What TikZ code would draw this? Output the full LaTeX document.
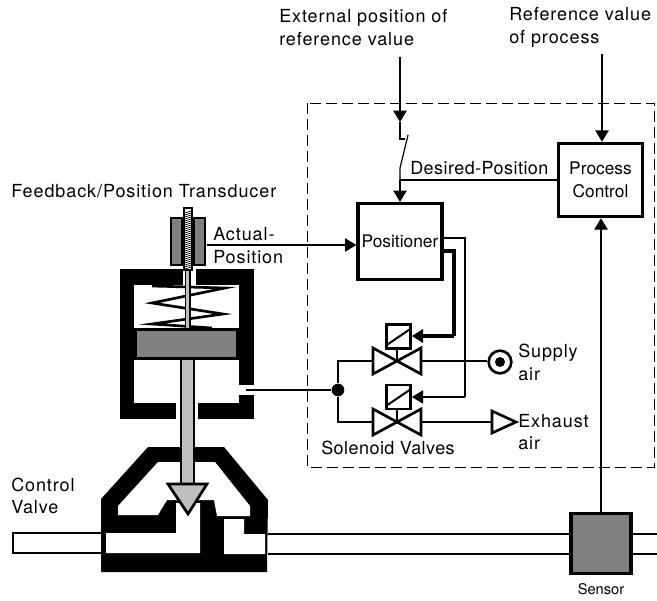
\documentclass[tikz,border=0pt]{standalone}
\usepackage{fontspec}
\setmainfont{TeX Gyre Heros}
\newfontfamily\widefont[LetterSpace=5]{TeX Gyre Heros}
\newfontfamily\semifont[LetterSpace=2.5]{TeX Gyre Heros}
\usepackage{tikz}
\usetikzlibrary{arrows.meta}
\definecolor{midgray}{gray}{0.5}
\definecolor{lightgray}{gray}{0.75}
\tikzstyle{block} = [rectangle, draw=black, line width=2.4pt, inner sep=0pt, align=center, font=\fontsize{13}{17}\selectfont]
\tikzstyle{wide} = [inner sep=0pt, anchor=west, align=left, font=\fontsize{13.5}{17}\selectfont\widefont]
\tikzstyle{semi} = [inner sep=0pt, font=\fontsize{13.5}{16}\selectfont\semifont]
\tikzstyle{arrow} = [line width=0.9pt,-{Triangle[length=8.5pt,width=10pt]}]
\tikzstyle{wire} = [line width=0.9pt]
\tikzstyle{solenoid} = [rectangle, draw=black, line width=2pt, minimum width=18pt, minimum height=18pt, inner sep=0pt]
\tikzstyle{valve} = [draw=black, line width=2pt, line join=miter]
\tikzstyle{wall} = [fill=black, draw=none]
\tikzstyle{hollow} = [fill=white, draw=none]

\begin{document}
\begin{tikzpicture}[x=0.75pt,y=-0.75pt]
\useasboundingbox (0,0) rectangle (657,600);

% control cabinet
\draw [line width=0.6pt, dash pattern=on 8.5pt off 3.5pt] (307,103) rectangle (654,467);

% pipe
\draw [line width=2pt, fill=white] (101,533) -- (13,533) -- (13,553) -- (101,553);
\draw [line width=2.2pt] (268,534) -- (657,534);
\draw [line width=2.2pt] (268,554) -- (657,554);

% valve body
\fill [wall] (101,499) -- (148,447) -- (224,447) -- (268,500) -- (267,572) -- (101,572) -- cycle;
\fill [hollow] (118,506) -- (158,462) -- (215,462) -- (250,506) -- (250,516) -- (217,516) -- (214,500) -- (167,500) -- (158,515) -- (118,515) -- cycle;
\fill [hollow] (106,533) -- (176,533) -- (176,503) -- (200,503) -- (200,553) -- (106,553) -- cycle;
\fill [hollow] (224,519) -- (244,519) -- (244,534) -- (265,534) -- (265,554) -- (224,554) -- cycle;

% actuator
\fill [wall] (120,269) rectangle (254,419);
\fill [hollow] (134,285) rectangle (239,403);
\fill [hollow] (239,385) rectangle (255,395);
\fill [hollow] (183,268) rectangle (196,286);
\fill [hollow] (176,402) rectangle (198,420);

% spring
\draw [line width=2pt] (152,286) -- (225,288) -- (152,303) -- (223,314) -- (152,324) -- (212,328);

% piston
\draw [line width=2pt, fill=midgray] (135.5,329.5) rectangle (237.5,358.5);

% stem and plug
\draw [line width=2pt, fill=lightgray] (181,359) rectangle (194,484);
\draw [line width=2pt, fill=lightgray, line join=miter] (168,484) -- (207,484) -- (188,514) -- cycle;

% transducer
\draw [line width=1pt, fill=midgray] (171,218) rectangle (182,265);
\draw [line width=1pt, fill=midgray] (194,218) rectangle (205,265);
\draw [line width=1.2pt, fill=lightgray] (185.5,270) rectangle (190,329);
\draw [line width=1.5pt, fill=white] (184,208) rectangle (192,270);
\foreach \y in {212,214,...,268}
    \draw [line width=0.5pt] (185,\y+1) -- (191,\y-1);

% blocks
\node (positioner) [block, minimum width=63pt, minimum height=57pt] at (400,241.5) {Positioner};
\node (control) [block, minimum width=63pt, minimum height=55pt] at (600.5,180) {Process\\Control};
\node (sensor) [block, fill=midgray, minimum width=45pt, minimum height=45pt] at (601,543.5) {};

% solenoid valves
\node (solA) [solenoid] at (398.5,336.5) {};
\node (solB) [solenoid] at (398.5,397) {};
\coordinate (valveA) at (397,361);
\coordinate (valveB) at (397,422);
\foreach \n/\c in {solA/valveA,solB/valveB} {
    \draw [valve] ([shift={(-24,-13)}]\c) -- ([shift={(24,13)}]\c) -- ([shift={(24,-13)}]\c) -- ([shift={(-24,13)}]\c) -- cycle;
    \draw [line width=1.5pt] (\n.south -| \c) -- (\c);
    \draw [line width=1.5pt] ([shift={(-11,8)}]\n.center) -- ([shift={(11,-7)}]\n.center);
}

% signals
\coordinate (ext) at (400,57);
\coordinate (extEnd) at (400,122);
\coordinate (swA) at (400,139);
\coordinate (swB) at (405,139);
\coordinate (swC) at (408,135);
\coordinate (swD) at (400,168);
\coordinate (desired) at (400,180);
\coordinate (ref) at (602,54);
\coordinate (actual) at (207,245);
\coordinate (thinA) at (465,238);
\coordinate (thinB) at (465,397);
\coordinate (thickA) at (454,251);
\coordinate (thickB) at (454,336);
\coordinate (port) at (246,390);
\node (junction) [circle, fill=black, minimum size=9.5pt, inner sep=0pt] at (338,390) {};
\node (supply) [circle, draw=black, line width=2pt, fill=white, minimum size=17pt, inner sep=0pt] at (500,362) {};
\node (supplydot) [circle, fill=black, minimum size=7.5pt, inner sep=0pt] at (500,362) {};
\coordinate (exhaust) at (492,422);

\draw [arrow] (ext) -- (extEnd);
\draw [wire] (extEnd) -- (swA) -- (swB);
\draw [wire] (swC) -- (swD) -- (desired);
\draw [arrow] (desired) -- (positioner.north);
\draw [wire] (desired) -- (desired -| control.west);
\draw [arrow] (ref) -- (ref |- control.north);
\draw [arrow] (actual) -- (actual -| positioner.west);
\draw [arrow] (sensor.north) -- (control.south -| sensor.north);
\draw [wire] (port) -- (junction);
\draw [wire] (valveA) ++(-24,0) -| (junction);
\draw [wire] (valveB) ++(-24,0) -| (junction);
\draw [wire] (valveA) ++(24,0) -- (supply.west |- valveA);
\draw [wire] (valveB) ++(24,0) -- (exhaust);
\draw [line width=2pt, fill=white, line join=miter] (492,411) -- (516,422) -- (492,433) -- cycle;
\draw [wire] (positioner.east |- thinA) -- (thinA) -- (thinB);
\draw [arrow] (thinB) -- (solB.east |- thinB);
\draw [line width=2.4pt] (positioner.east |- thickA) -- (thickA) -- (thickB);
\draw [line width=2.4pt,-{Triangle[length=8.5pt,width=10pt]}] (thickB) -- (solA.east |- thickB);

% labels
\node (lblExt) [wide] at (279,27.5) {External position of\\reference value};
\node (lblRef) [wide] at (509,27.5) {Reference value\\of process};
\node (lblFeed) [wide] at (11,191) {Feedback/Position Transducer};
\node (lblAct) [wide] at (213,245.5) {Actual-\\Position};
\node (lblValve) [wide] at (11,496) {Control\\Valve};
\node (lblDes) [semi, anchor=west] at (410,168) {Desired-Position};
\node (lblSol) [semi] at (388,448) {Solenoid Valves};
\node (lblSup) [wide] at (518,362.5) {Supply\\air};
\node (lblExh) [wide] at (518,432) {Exhaust\\air};
\node (lblSen) [inner sep=0pt, font=\fontsize{11}{12}\selectfont] at (601,589) {Sensor};
\end{tikzpicture}
\end{document}
